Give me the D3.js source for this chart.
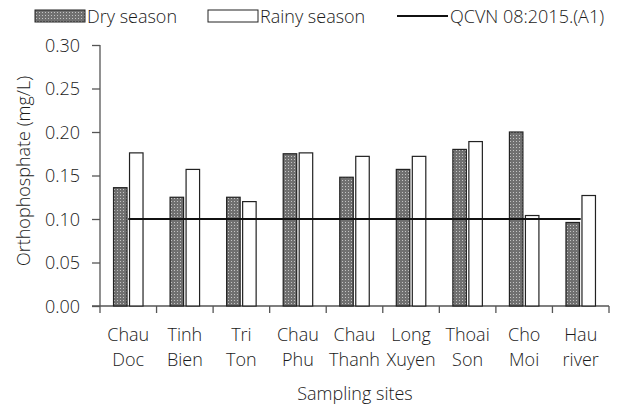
<!DOCTYPE html>
<html>
<head>
<meta charset="utf-8">
<script src="https://cdn.jsdelivr.net/npm/d3@7"></script>
<style>
  body { margin: 0; background: #fff; }
  text { font-family: "Open Sans", sans-serif; font-weight: 300; fill: #1a1a1a; }
</style>
</head>
<body>
<div id="root"></div>
<script>
// data
var sites = [["Chau", "Doc"], ["Tinh", "Bien"], ["Tri", "Ton"], ["Chau", "Phu"], ["Chau", "Thanh"],
  ["Long", "Xuyen"], ["Thoai", "Son"], ["Cho", "Moi"], ["Hau", "river"]];
var drySeason = [0.136, 0.125, 0.125, 0.175, 0.148, 0.157, 0.180, 0.200, 0.096];
var rainySeason = [0.176, 0.157, 0.120, 0.176, 0.172, 0.172, 0.189, 0.104, 0.127];
var standard = 0.10;
var yTicks = [0, 0.05, 0.10, 0.15, 0.20, 0.25, 0.30];

var w = 626, h = 406;
var margin = {top: 45, right: 17, bottom: 100, left: 100};
var fs = "18px";

var svg = d3.select("#root").append("svg").attr("width", w).attr("height", h);

// dotted texture for dry season bars
var defs = svg.append("defs");
var pat = defs.append("pattern").attr("id", "dots").attr("width", 3).attr("height", 3)
  .attr("patternUnits", "userSpaceOnUse");
pat.append("rect").attr("width", 3).attr("height", 3).attr("fill", "#707070");
pat.append("rect").attr("width", 1).attr("height", 1).attr("fill", "#c4c4c4");

var idx = sites.map(function(d, i) { return i; });
var x = d3.scaleBand().domain(idx).range([margin.left, w - margin.right]).padding(0);
var y = d3.scaleLinear().domain([0, 0.30]).range([h - margin.bottom, margin.top]);

var barW = 13.5, gap = 2.5;

// y axis
var yAxis = d3.axisLeft(y).tickValues(yTicks).tickFormat(d3.format(".2f")).tickSize(8).tickPadding(12);
var gy = svg.append("g").attr("transform", "translate(" + margin.left + ",0)").call(yAxis);
gy.select(".domain").attr("stroke", "#555").attr("stroke-width", 1.3).attr("d", "M0," + margin.top + "V" + (h - margin.bottom));
gy.selectAll(".tick line").attr("stroke", "#555").attr("stroke-width", 1.3);
gy.selectAll(".tick text").style("font-size", fs).attr("dy", "0.36em");

// x axis baseline and ticks
var gx = svg.append("g").attr("transform", "translate(0," + (h - margin.bottom) + ")");
gx.append("line").attr("x1", margin.left - 8).attr("x2", w - margin.right).attr("stroke", "#555").attr("stroke-width", 1.3);
var xt = idx.concat([sites.length]);
gx.selectAll("line.t").data(xt).enter().append("line").attr("class", "t")
  .attr("x1", function(d) { return d < sites.length ? x(d) : x(d - 1) + x.bandwidth(); })
  .attr("x2", function(d) { return d < sites.length ? x(d) : x(d - 1) + x.bandwidth(); })
  .attr("y1", 0).attr("y2", 7).attr("stroke", "#555").attr("stroke-width", 1.3);

// category labels
var lab = svg.append("g").selectAll("text").data(sites).enter().append("text")
  .attr("x", function(d, i) { return x(i) + x.bandwidth() / 2; })
  .attr("text-anchor", "middle").style("font-size", fs);
lab.append("tspan").attr("x", function(d, i) { return x(i) + x.bandwidth() / 2; }).attr("y", 341).text(function(d) { return d[0]; });
lab.append("tspan").attr("x", function(d, i) { return x(i) + x.bandwidth() / 2; }).attr("y", 366).text(function(d) { return d[1]; });

// bars
svg.append("g").selectAll("rect").data(drySeason).enter().append("rect")
  .attr("x", function(d, i) { return x(i) + x.bandwidth() / 2 - gap / 2 - barW; })
  .attr("y", function(d) { return y(d); })
  .attr("width", barW).attr("height", function(d) { return y(0) - y(d); })
  .attr("fill", "url(#dots)").attr("stroke", "#222").attr("stroke-width", 1.2);
svg.append("g").selectAll("rect").data(rainySeason).enter().append("rect")
  .attr("x", function(d, i) { return x(i) + x.bandwidth() / 2 + gap / 2; })
  .attr("y", function(d) { return y(d); })
  .attr("width", barW).attr("height", function(d) { return y(0) - y(d); })
  .attr("fill", "#fff").attr("stroke", "#222").attr("stroke-width", 1.2);

// standard line
var line = d3.line().x(function(d, i) { return x(i) + x.bandwidth() / 2; }).y(function(d) { return y(d); });
svg.append("path").datum(sites.map(function() { return standard; })).attr("d", line)
  .attr("fill", "none").attr("stroke", "#111").attr("stroke-width", 2);

// axis titles
svg.append("text").attr("x", 355).attr("y", 400).attr("text-anchor", "middle").style("font-size", fs).text("Sampling sites");
svg.append("text").attr("transform", "translate(30,171) rotate(-90)")
  .attr("text-anchor", "middle").style("font-size", fs).text("Orthophosphate (mg/L)");

// legend
var lg = svg.append("g");
lg.append("rect").attr("x", 35).attr("y", 10).attr("width", 50).attr("height", 12).attr("fill", "url(#dots)").attr("stroke", "#222").attr("stroke-width", 1);
lg.append("text").attr("x", 87).attr("y", 23).style("font-size", fs).text("Dry season");
lg.append("rect").attr("x", 208).attr("y", 10).attr("width", 50).attr("height", 12).attr("fill", "#fff").attr("stroke", "#222").attr("stroke-width", 1);
lg.append("text").attr("x", 260).attr("y", 23).style("font-size", fs).text("Rainy season");
lg.append("line").attr("x1", 397).attr("x2", 448).attr("y1", 16).attr("y2", 16).attr("stroke", "#111").attr("stroke-width", 2);
lg.append("text").attr("x", 450).attr("y", 23).style("font-size", fs).text("QCVN 08:2015.(A1)");
</script>
</body>
</html>
